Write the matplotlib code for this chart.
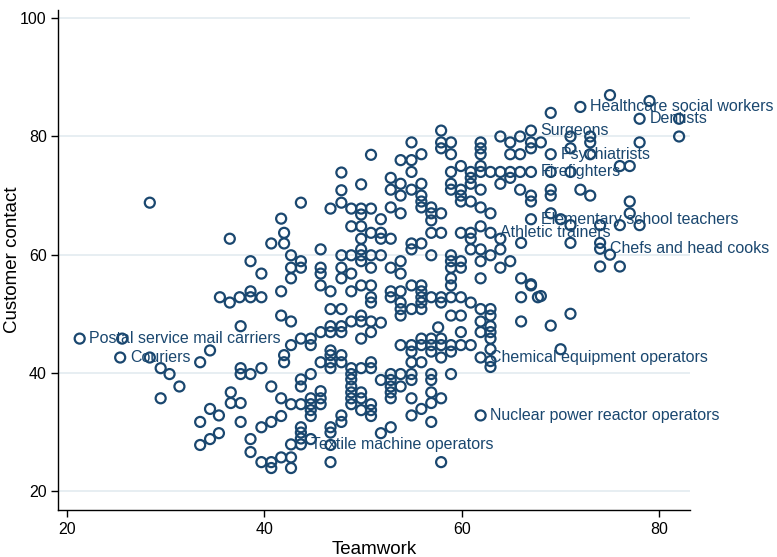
import matplotlib
matplotlib.use("Agg")
import matplotlib.pyplot as plt

# Teamwork (x) and Customer contact (y)
teamwork = [
    28.4,
    50.8, 47.8, 49.8, 47.8, 43.7, 47.8, 46.7, 48.8, 49.8, 50.8, 49.8, 41.7, 51.8,
    57.9, 54.9, 57.9, 58.9, 57.9, 61.9, 61.9, 61.9, 58.9, 55.9, 53.8, 54.9, 54.9, 52.8, 53.8, 52.8,
    53.8, 54.9, 55.9, 55.9, 55.9, 55.9, 56.9, 56.9, 57.9, 52.8, 53.8,
    58.9, 59.9, 60.9, 60.9, 60.9, 61.9, 61.9, 62.9, 63.9, 64.9, 65.9, 67.0, 64.9, 63.9, 58.9, 58.9,
    59.9, 59.9, 59.9, 60.9, 61.9, 61.9, 62.9, 65.9, 67.0, 67.0, 67.0,
    63.9, 64.9, 65.9, 67.0, 67.0, 67.0, 68.0, 64.9, 65.9,
    69, 72, 75, 79, 78, 82, 82, 71, 73, 73, 78, 69, 71, 73, 76, 77, 71, 69, 69, 69, 72, 73, 77, 77, 69, 70,
    71, 74, 76, 78, 74, 74, 71, 74, 76, 68, 67, 71, 69, 70, 75,
    56.9, 51.8, 51.8, 52.8, 56.9, 57.9, 59.9, 60.9, 60.9, 61.9, 62.9, 63.9, 66.0, 54.9, 54.9, 55.9,
    51.8, 56.9, 58.9, 60.9, 61.9, 62.9, 63.9, 64.9, 63.9, 61.9, 59.9, 59.9, 58.9, 58.9, 53.8, 52.8,
    53.8, 58.9, 58.9, 61.9, 66.0, 67.0, 66.0, 67.7,
    52.8, 52.8, 53.8, 53.8, 53.8, 53.8, 54.9, 54.9, 55.9, 55.9, 55.9, 55.9, 55.9, 56.9, 57.9, 57.9,
    58.9, 59.9, 60.9, 58.9, 59.9, 61.9, 62.9, 62.9, 61.9, 62.9, 61.9, 62.9, 62.9, 59.9, 57.6, 66.0,
    51.8, 55.9, 56.9, 57.9,
    53.8, 54.9, 55.9, 56.9, 57.9, 58.9, 59.9, 60.9,
    54.9, 56.9, 58.9, 57.9, 54.9, 55.9, 58.9, 51.8, 52.8, 52.8, 52.8, 52.8, 52.8, 53.8, 53.8, 54.9,
    54.9, 56.9, 56.9, 56.9, 56.9, 57.9, 54.9, 55.9, 54.9, 56.9, 51.8, 52.8, 57.9, 61.9, 61.9, 62.9,
    62.9, 62.9,
    42.0, 36.5, 40.7, 42.0, 45.7, 48.8, 49.8, 49.8, 49.8, 50.8, 42.7, 43.7, 42.7, 43.7, 38.6, 39.7,
    42.7, 45.7, 45.7, 45.7, 47.8, 48.8, 47.8, 47.8, 48.8, 46.7, 48.8, 49.8, 49.8, 50.8, 50.8, 49.8,
    50.8, 50.8, 50.8, 35.5, 36.5, 37.5, 38.6, 38.6, 39.7, 41.7, 41.7, 42.7, 37.6, 46.7, 47.8, 45.7,
    46.7, 46.7, 47.8, 47.8, 48.8, 49.8, 49.8, 50.8, 50.8, 49.8,
    42.7, 43.7, 44.7, 44.7,
    21.3, 25.6, 25.4, 28.4, 29.5, 30.4, 31.4, 29.5, 33.5, 34.5, 34.5, 33.5, 35.4, 34.5, 33.5, 35.4,
    42.0, 42.0, 37.6, 37.6, 38.6, 39.7, 36.6, 36.6, 37.6, 37.6, 38.6, 38.6, 39.7, 40.7, 40.7, 41.7,
    42.7, 42.7, 39.7, 40.7, 41.7, 40.7, 41.7, 42.7, 43.7, 43.7, 43.7, 44.7, 42.7, 43.7, 43.7, 43.7,
    43.7, 44.7, 44.7, 44.7, 44.7, 44.7, 45.7, 45.7, 45.7, 45.7, 46.7, 46.7, 46.7, 46.7, 47.8, 47.8,
    47.8, 47.8, 46.7, 46.7, 46.7, 46.7, 48.8, 48.8, 48.8, 48.8, 48.8, 48.8, 48.8, 49.8, 49.8, 49.8,
    49.8, 50.8, 50.8, 50.8, 50.8, 50.8,
]
customer_contact = [
    68.8,
    76.9, 73.9, 71.9, 70.9, 68.8, 68.8, 67.8, 67.8, 67.8, 67.8, 66.8, 66.1, 66.0,
    81.0, 79.0, 79.0, 79.0, 78.0, 79.0, 78.0, 77.0, 77.0, 77.0, 76.0, 76.0, 74.0, 73.0, 72.0, 71.0,
    70.0, 71.0, 72.0, 70.0, 69.0, 68.0, 68.0, 67.0, 67.0, 68.0, 67.0,
    74.0, 75.0, 74.0, 73.0, 72.0, 75.0, 74.0, 74.0, 74.0, 74.0, 74.0, 74.0, 73.0, 72.0, 72.0, 71.0,
    71.0, 70.0, 69.0, 69.0, 71.0, 68.0, 67.0, 71.0, 70.0, 69.0, 66.0,
    80.0, 79.0, 80.0, 81.0, 79.0, 78.0, 79.0, 77.0, 77.0,
    84, 85, 87, 86, 83, 83, 80, 80, 80, 79, 79, 77, 78, 77, 75, 75, 74, 74, 71, 70, 71, 70, 69, 67, 67, 66,
    65, 65, 65, 65, 62, 61, 62, 58, 58, 53, 55, 50, 48, 44, 60,
    65.8, 63.7, 62.7, 62.7, 63.7, 63.7, 63.7, 63.7, 62.7, 64.8, 63.7, 62.7, 62.0, 61.9, 60.9, 61.9,
    59.9, 59.9, 59.9, 60.9, 60.9, 59.9, 60.9, 58.9, 57.8, 58.9, 58.9, 57.8, 58.9, 57.8, 58.9, 57.8,
    56.8, 56.0, 54.8, 56.0, 56.0, 54.8, 52.8, 52.8,
    53.8, 52.8, 53.8, 51.9, 50.8, 49.7, 54.8, 50.8, 54.8, 53.8, 52.8, 51.9, 50.8, 52.8, 52.8, 51.9,
    52.8, 52.8, 51.9, 49.7, 49.7, 50.8, 50.8, 49.7, 48.7, 47.9, 46.9, 46.9, 45.8, 46.9, 47.7, 48.7,
    48.5, 45.8, 45.8, 45.8,
    44.7, 44.7, 44.7, 44.7, 44.7, 44.7, 44.7, 44.7,
    43.6, 43.6, 43.6, 42.6, 41.8, 41.8, 39.8, 38.8, 39.8, 38.8, 37.7, 36.7, 35.7, 39.8, 37.7, 39.8,
    38.8, 39.8, 38.8, 36.7, 34.9, 35.7, 35.7, 33.9, 32.8, 31.7, 29.8, 30.8, 24.9, 32.8, 42.6, 44.0,
    42.0, 41.0,
    63.7, 62.7, 61.9, 61.9, 60.9, 64.8, 64.8, 62.7, 60.9, 63.7, 59.9, 58.9, 57.8, 57.8, 58.9, 56.8,
    56.0, 57.8, 56.8, 54.8, 59.9, 59.9, 57.8, 56.0, 56.8, 53.8, 53.8, 59.9, 58.9, 59.9, 57.8, 54.8,
    54.8, 52.8, 51.9, 52.8, 51.9, 52.8, 53.8, 52.8, 52.8, 53.8, 49.7, 48.7, 47.9, 50.8, 50.8, 46.9,
    47.9, 46.9, 47.9, 46.9, 48.7, 49.7, 48.7, 48.7, 46.9, 45.8,
    44.7, 45.8, 45.8, 44.7,
    45.8, 45.8, 42.6, 42.6, 40.8, 39.8, 37.7, 35.7, 41.8, 43.8, 33.9, 31.7, 32.8, 28.8, 27.8, 29.8,
    43.0, 41.8, 40.8, 39.8, 39.8, 40.8, 36.7, 34.9, 34.9, 31.7, 28.8, 26.6, 24.9, 24.9, 23.9, 25.7,
    25.7, 23.9, 30.8, 31.7, 32.7, 37.7, 35.7, 34.7, 34.7, 38.9, 37.7, 39.8, 27.9, 30.8, 29.9, 28.9,
    27.9, 28.8, 35.7, 34.7, 33.7, 32.7, 36.9, 35.7, 34.7, 41.8, 43.8, 43.0, 41.8, 40.8, 43.0, 41.8,
    32.8, 31.7, 30.8, 29.9, 27.8, 24.9, 40.8, 39.8, 38.9, 37.7, 36.7, 35.7, 34.7, 40.8, 36.7, 35.7,
    33.7, 41.8, 40.8, 34.7, 33.7, 32.7,
]

# Labelled occupations
label_names = [
    "Healthcare social workers", "Dentists", "Surgeons", "Psychiatrists", "Firefighters",
    "Elementary school teachers", "Athletic trainers", "Chefs and head cooks",
    "Postal service mail carriers", "Couriers", "Chemical equipment operators",
    "Nuclear power reactor operators", "Textile machine operators",
]
label_x = [72, 78, 67, 69, 67, 67, 62.9, 74, 21.3, 25.4, 61.9, 61.9, 43.7]
label_y = [85, 83, 81, 77, 74, 66, 63.7, 61, 45.8, 42.6, 42.6, 32.8, 27.9]

navy = "#1a476f"
plt.rcParams["font.family"] = ["Liberation Sans", "DejaVu Sans"]

fig = plt.figure(figsize=(7.77, 5.57), dpi=100)
ax = fig.add_axes([0.0746, 0.0844, 0.8134, 0.8976])

ax.scatter(teamwork, customer_contact, s=52, facecolors="none", edgecolors=navy,
           linewidths=1.6, zorder=3)

for name, lx, ly in zip(label_names, label_x, label_y):
    ax.annotate(name, (lx, ly), xytext=(7, 0), textcoords="offset points",
                ha="left", va="center", color=navy, fontsize=11.5, zorder=4)

ax.set_xlim(19.1, 83.1)
ax.set_ylim(16.8, 101.4)
ax.set_xticks([20, 40, 60, 80])
ax.set_yticks([20, 40, 60, 80, 100])
ax.grid(axis="y", color="#e3ebf0", linewidth=1.2, zorder=0)
ax.set_axisbelow(True)
for side in ["top", "right"]:
    ax.spines[side].set_visible(False)
for side in ["left", "bottom"]:
    ax.spines[side].set_color("black")
    ax.spines[side].set_linewidth(1.0)
ax.tick_params(axis="both", direction="out", length=5, width=1.0, labelsize=11.5,
               colors="black")
ax.tick_params(axis="y", pad=3)
ax.set_xlabel("Teamwork", fontsize=13.5, labelpad=3)
ax.set_ylabel("Customer contact", fontsize=13.5)
ax.yaxis.set_label_coords(-0.058, 0.5)

fig.savefig("out.png", dpi=100)
